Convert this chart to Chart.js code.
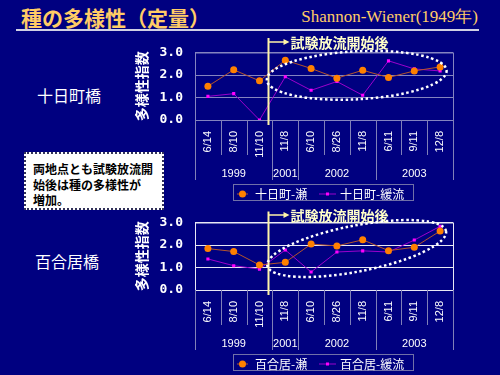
<!DOCTYPE html>
<html>
<head>
<meta charset="utf-8">
<script src="https://cdn.jsdelivr.net/npm/chart.js@4.4.1/dist/chart.umd.min.js"></script>
<style>
  body { margin: 0; width: 500px; height: 375px; background: #000080; overflow: hidden; position: relative; font-family: 'Noto Sans CJK JP', sans-serif; }
  .title { position: absolute; left: 21px; top: 2px; font-size: 21px; font-weight: bold; color: #FFCC66; }
  .ref { position: absolute; right: 22px; top: 5px; font-family: 'Liberation Serif', serif; font-size: 17px; color: #FFCC66; }
  .rule { position: absolute; left: 16px; top: 29px; width: 463px; height: 1.5px; background: #D0D0E4; }
  .site { position: absolute; font-size: 16px; color: #fff; }
  .note { position: absolute; left: 24px; top: 152px; width: 129px; height: 54px; background: #fff; border: 2px dotted #33335a;
          font-size: 12px; font-weight: bold; line-height: 15.5px; color: #000; padding: 0 0 0 7px; box-sizing: content-box; z-index: 2; }
  .note div { padding-top: 7px; }
  canvas { position: absolute; left: 130px; }
</style>
</head>
<body>
<div class="title">種の多様性（定量）</div>
<div class="ref">Shannon-Wiener(1949年)</div>
<div class="rule"></div>
<div class="site" style="left:37px;top:83px">十日町橋</div>
<div class="site" style="left:35px;top:249px">百合居橋</div>
<div class="note"><div>両地点とも試験放流開<br>始後は種の多様性が<br>増加。</div></div>
<canvas id="chart1" width="370" height="175" style="top:30px"></canvas>
<canvas id="chart2" width="370" height="175" style="top:200px"></canvas>
<script>
const dateLabels = ['6/14', '8/10', '11/10', '11/8', '6/10', '8/26', '11/8', '6/11', '9/11', '12/8'];
const yearLabels = ['1999', '2001', '2002', '2003'];
const yearSpans = [3, 1, 3, 3];
const yTicks = [0, 1, 2, 3];

const tokamachiNames = ['十日町-瀬', '十日町-緩流'];
const tokamachiSe = [1.50, 2.23, 1.74, 2.66, 2.29, 1.86, 2.21, 1.89, 2.18, 2.36];
const tokamachiKanryu = [1.05, 1.17, 0.00, 1.92, 1.32, 1.71, 1.10, 2.63, 2.27, 2.18];

const yurioiNames = ['百合居-瀬', '百合居-緩流'];
const yurioiSe = [1.84, 1.71, 1.11, 1.23, 2.04, 1.96, 2.23, 1.75, 1.90, 2.62];
const yurioiKanryu = [1.38, 1.08, 0.93, 1.78, 0.80, 1.69, 1.74, 1.69, 2.22, 2.83];

const startLabel = '試験放流開始後';

// frame, year row, legend, start marker, dotted ellipse
const slideExtras = {
  id: 'slideExtras',
  beforeDatasetsDraw(chart, args, opts) {
    const { ctx, chartArea: a } = chart;
    ctx.save();
    ctx.strokeStyle = opts.frameColor;
    ctx.lineWidth = 1;
    ctx.strokeRect(a.left + 0.5, a.top + 0.5, a.width, a.height);
    ctx.restore();
  },
  afterDatasetsDraw(chart, args, opts) {
    const { ctx, chartArea: a, scales: { x } } = chart;
    ctx.save();
    // start marker
    const mx = Math.round(x.getPixelForValue(opts.markerAt)) + 0.5;
    ctx.strokeStyle = '#FFF5A8';
    ctx.lineWidth = 2;
    ctx.beginPath();
    ctx.moveTo(mx, opts.markerTop);
    ctx.lineTo(mx, a.bottom + 5);
    ctx.stroke();
    ctx.lineWidth = 1.5;
    ctx.beginPath();
    ctx.moveTo(mx, opts.arrowY);
    ctx.lineTo(mx + 17, opts.arrowY);
    ctx.stroke();
    ctx.fillStyle = '#FFF5A8';
    ctx.beginPath();
    ctx.moveTo(mx + 21, opts.arrowY);
    ctx.lineTo(mx + 15, opts.arrowY - 3);
    ctx.lineTo(mx + 15, opts.arrowY + 3);
    ctx.closePath();
    ctx.fill();
    ctx.fillStyle = '#FFFFC8';
    ctx.font = 'bold 14px "Noto Sans CJK JP"';
    ctx.textBaseline = 'middle';
    ctx.fillText(startLabel, mx + 22, opts.arrowY + 1);
    // dotted ellipse
    const e = opts.ellipse;
    ctx.strokeStyle = '#FFFFFF';
    ctx.lineWidth = 2.5;
    ctx.setLineDash([2.5, 2.6]);
    ctx.beginPath();
    ctx.ellipse(a.left + e.cx, a.top + e.cy, e.rx, e.ry, e.rot * Math.PI / 180, 0, Math.PI * 2);
    ctx.stroke();
    ctx.restore();
  },
  afterDraw(chart, args, opts) {
    const { ctx, chartArea: a, scales: { x } } = chart;
    ctx.save();
    ctx.strokeStyle = '#8080B8';
    ctx.lineWidth = 1;
    const bounds = [0];
    yearSpans.forEach(s => bounds.push(bounds[bounds.length - 1] + s));
    for (let i = 0; i <= dateLabels.length; i++) {
      const px = Math.round(x.getPixelForValue(i - 0.5)) + 0.5;
      const len = bounds.includes(i) ? 60 : 35;
      ctx.beginPath();
      ctx.moveTo(px, a.bottom);
      ctx.lineTo(px, a.bottom + len);
      ctx.stroke();
    }
    ctx.fillStyle = '#FFFFFF';
    ctx.font = '11px "Liberation Sans"';
    ctx.textAlign = 'center';
    ctx.textBaseline = 'middle';
    yearLabels.forEach((yl, k) => {
      const mid = bounds[k] + yearSpans[k] / 2 - 0.5;
      ctx.fillText(yl, x.getPixelForValue(mid), a.bottom + 54);
    });
    // legend
    const lx = a.left + 38, ly = a.bottom + 64;
    ctx.strokeStyle = '#7070A8';
    ctx.strokeRect(lx + 0.5, ly + 0.5, 180, 16);
    const cy = ly + 10;
    const items = [{ x0: lx + 4, x1: lx + 15, tx: lx + 22 }, { x0: lx + 86, x1: lx + 103, tx: lx + 107 }];
    chart.data.datasets.forEach((ds, i) => {
      const it = items[i];
      ctx.strokeStyle = ds.borderColor;
      ctx.lineWidth = 1;
      ctx.beginPath();
      ctx.moveTo(it.x0, cy);
      ctx.lineTo(it.x1, cy);
      ctx.stroke();
      ctx.fillStyle = ds.pointBackgroundColor;
      const cx = (it.x0 + it.x1) / 2;
      if (ds.pointStyle === 'circle') {
        ctx.beginPath();
        ctx.arc(cx, cy, 3.5, 0, Math.PI * 2);
        ctx.fill();
      } else {
        ctx.fillRect(cx - 1.5, cy - 1.5, 3, 3);
      }
      ctx.fillStyle = '#FFFFFF';
      ctx.font = '12px "Noto Sans CJK JP"';
      ctx.textAlign = 'left';
      ctx.fillText(ds.label, it.tx, cy);
    });
    ctx.restore();
  }
};

function makeChart(id, names, se, kanryu, gridColor, extras) {
  return new Chart(document.getElementById(id), {
    type: 'line',
    data: {
      labels: dateLabels,
      datasets: [{
        label: names[0],
        data: se,
        borderColor: '#B4542A',
        borderWidth: 1,
        pointStyle: 'circle',
        pointRadius: 3.5,
        pointBackgroundColor: '#FF8000',
        pointBorderColor: '#FF8000',
        pointBorderWidth: 0
      }, {
        label: names[1],
        data: kanryu,
        borderColor: '#9C00CC',
        borderWidth: 1,
        pointStyle: 'rect',
        pointRadius: 2.2,
        pointBackgroundColor: '#FF00FF',
        pointBorderColor: '#FF00FF',
        pointBorderWidth: 0
      }]
    },
    options: {
      responsive: false,
      animation: false,
      layout: { padding: { left: 0, right: 47, top: 22.5, bottom: 0 } },
      plugins: {
        legend: { display: false },
        tooltip: { enabled: false },
        slideExtras: { frameColor: gridColor, ...extras }
      },
      scales: {
        x: {
          offset: true,
          grid: { display: false, drawTicks: false },
          border: { display: false },
          ticks: { color: '#FFFFFF', font: { family: 'Liberation Sans', size: 11 }, minRotation: 90, maxRotation: 90, padding: 11, autoSkip: false },
          afterFit(scale) { scale.height = 85; }
        },
        y: {
          min: 0,
          max: 3,
          afterBuildTicks(scale) { scale.ticks = yTicks.map(v => ({ value: v })); },
          grid: { color: gridColor, drawTicks: false },
          border: { display: false },
          ticks: { color: '#FFFFFF', font: { family: 'DejaVu Sans Mono', size: 13, weight: 'bold' }, padding: 12, callback: v => v.toFixed(1) },
          title: { display: true, text: '多様性指数', color: '#FFFFFF', font: { family: 'Noto Sans CJK JP', size: 14, weight: 'bold' }, padding: { top: 3.5, bottom: 0 } },
          afterFit(scale) { scale.width = 65; }
        }
      }
    },
    plugins: [slideExtras]
  });
}

makeChart('chart1', tokamachiNames, tokamachiSe, tokamachiKanryu, '#8484C0', {
  markerAt: 2.32, markerTop: 8, arrowY: 12,
  ellipse: { cx: 161.7, cy: 22.8, rx: 90, ry: 24, rot: -3 }
});
makeChart('chart2', yurioiNames, yurioiSe, yurioiKanryu, '#E8E8F4', {
  markerAt: 2.32, markerTop: 11.5, arrowY: 15,
  ellipse: { cx: 161.7, cy: 26, rx: 91, ry: 23, rot: -11 }
});
</script>
</body>
</html>
